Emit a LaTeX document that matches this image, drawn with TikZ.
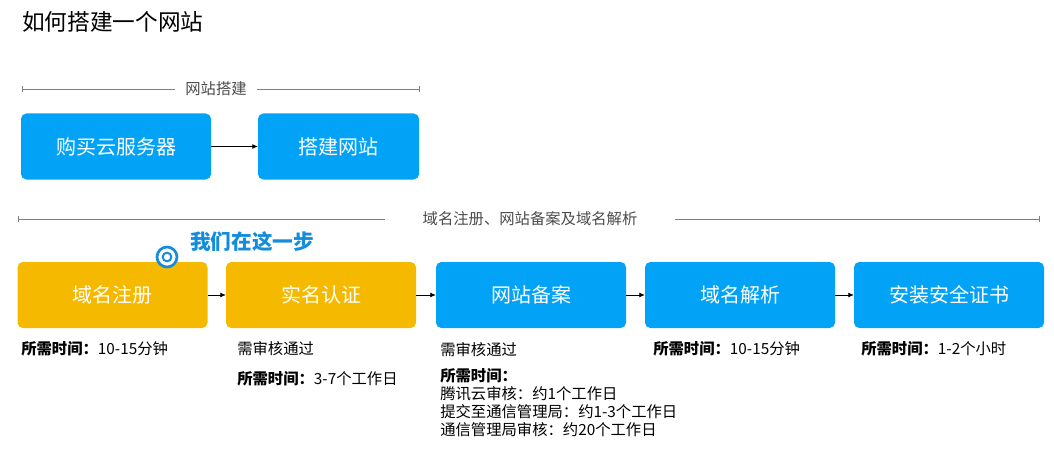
\documentclass[tikz,border=0pt]{standalone}
\usepackage{fontspec}
\setmainfont{Noto Sans CJK SC}
\usetikzlibrary{arrows.meta}
\definecolor{skyblue}{RGB}{2,163,246}
\definecolor{amber}{RGB}{245,185,0}
\definecolor{markblue}{RGB}{20,140,220}
\begin{document}
\begin{tikzpicture}[x=0.75pt, y=-0.75pt]

% Define styles
\tikzset{
  stage/.style={rectangle, rounded corners=4pt, minimum width=142.5pt, minimum height=49.5pt, text=white, font=\fontsize{15}{17}\selectfont, inner sep=0pt},
  bluestage/.style={stage, fill=skyblue},
  ambstage/.style={stage, fill=amber},
  arrow/.style={-{Latex[length=4pt,width=3.5pt]}, thin},
  rule/.style={gray, thin, {Bar[width=4pt]}-{Bar[width=4pt]}},
  heading/.style={font=\fontsize{11.5}{13}\selectfont, text=black!70, fill=white},
  note/.style={anchor=north west, inner sep=0pt, font=\fontsize{11.5}{13.5}\selectfont, align=left}
}

\useasboundingbox (0,0) rectangle (1054,453);

% Title
\node (title) [anchor=west, inner sep=0pt, font=\fontsize{17}{20}\selectfont] at (22,22) {如何搭建一个网站};

% Section 1
\coordinate (r1a) at (22,89); \coordinate (r1b) at (420,89);
\draw [rule] (r1a) -- (r1b);
\node (sec1) [heading, inner xsep=8pt] at (216,89) {网站搭建};

\node (buy) [bluestage] at (116,146.5) {购买云服务器};
\node (build) [bluestage, minimum width=120.75pt] at (338.5,146.5) {搭建网站};
\draw [arrow] (buy) -- (build);

% Section 2
\coordinate (r2a) at (18,219); \coordinate (r2b) at (1040,219);
\draw [rule] (r2a) -- (r2b);
\node (sec2) [heading, inner xsep=28pt] at (530,219) {域名注册、网站备案及域名解析};

\node (reg) [ambstage] at (112.5,295) {域名注册};
\node (auth) [ambstage] at (321,295) {实名认证};
\node (icp) [bluestage] at (531,295) {网站备案};
\node (dns) [bluestage] at (740,295) {域名解析};
\node (ssl) [bluestage] at (949,295) {安装安全证书};
\draw [arrow] (reg) -- (auth);
\draw [arrow] (auth) -- (icp);
\draw [arrow] (icp) -- (dns);
\draw [arrow] (dns) -- (ssl);

% Marker
\node (mark) [circle, draw=markblue, line width=2pt, minimum size=15pt, inner sep=0pt, fill=white] at (167,257) {};
\node (markdot) [circle, draw=markblue, line width=1.5pt, minimum size=6.5pt, inner sep=0pt] at (mark.center) {};
\node (here) [anchor=west, inner sep=0pt, text=markblue, font=\fontsize{15.5}{17}\selectfont\bfseries] at (190,242) {我们在这一步};

% Notes
\node (n1) [note] at (21,341) {\textbf{所需时间：}10-15分钟};
\node (n2) [note] at (237,341) {需审核通过};
\node (n2b) [note] at (237,371) {\textbf{所需时间：}3-7个工作日};
\node (n3) [note] at (440,342) {需审核通过};
\node (n3b) [note] at (440,368) {\textbf{所需时间：}\\腾讯云审核：约1个工作日\\提交至通信管理局：约1-3个工作日\\通信管理局审核：约20个工作日};
\node (n4) [note] at (653,341) {\textbf{所需时间：}10-15分钟};
\node (n5) [note] at (861,341) {\textbf{所需时间：}1-2个小时};

\end{tikzpicture}
\end{document}
